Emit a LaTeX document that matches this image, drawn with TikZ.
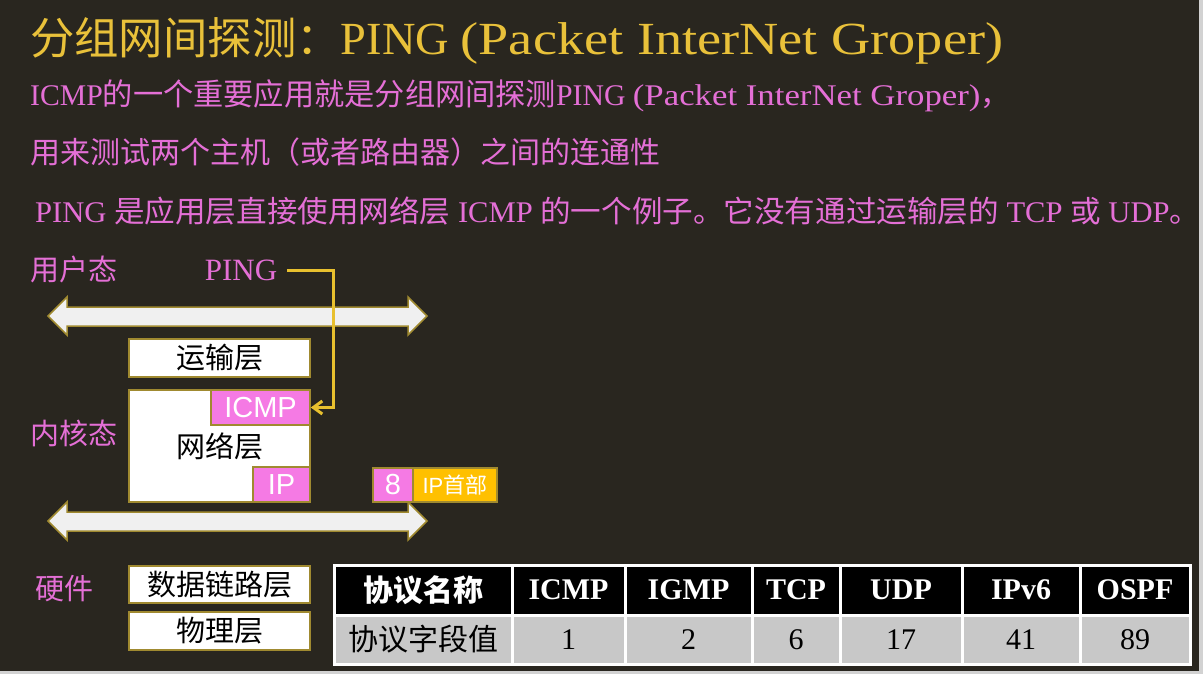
\documentclass[tikz,border=0pt]{standalone}
\usepackage{fontspec}
\setmainfont{Liberation Serif}
\newfontfamily\cjk{Noto Sans CJK SC}
\newfontfamily\arial{Liberation Sans}
\usetikzlibrary{arrows.meta}
\newsavebox\fitbox
\newcommand\fitto[2]{\sbox\fitbox{#2}\pgfmathsetmacro\fitr{#1/\the\wd\fitbox}\scalebox{\fitr}[1]{\usebox\fitbox}}
\newcommand\wide[1]{\scalebox{1.17}[1]{#1}}
\definecolor{bg}{HTML}{29261F}
\definecolor{strip}{HTML}{D2D2D2}
\definecolor{titley}{HTML}{E9C13A}
\definecolor{pinktext}{HTML}{E46FD6}
\definecolor{pinkbox}{HTML}{F57AE4}
\definecolor{gold}{HTML}{A08A30}
\definecolor{ipy}{HTML}{FFC000}
\definecolor{conny}{HTML}{E8C02E}
\definecolor{arrowfill}{HTML}{F0F0F0}
\definecolor{rowgray}{HTML}{C8C8C8}
\tikzset{
  pinklabel/.style={anchor=west, inner sep=0, text=pinktext, font=\cjk\fontsize{29}{32}\selectfont},
  textline/.style={anchor=west, inner sep=0, text=pinktext, font=\fontsize{30}{34}\selectfont},
  layerbox/.style={draw=gold, line width=1.5pt, fill=white, inner sep=0, text=black, font=\cjk\fontsize{29}{32}\selectfont},
  tagbox/.style={draw=gold, line width=1.5pt, fill=pinkbox, inner sep=0, text=white, font=\arial\fontsize{29}{32}\selectfont},
  bigarrow/.style={draw=gold, line width=1.5pt, fill=arrowfill},
  conn/.style={draw=conny, line width=3pt, -{Straight Barb[length=9pt,width=13pt]}},
  hcell/.style={fill=black, draw=white, line width=3pt, inner sep=0, text=white, font=\bfseries\fontsize{30}{34}\selectfont, minimum height=50pt},
  vcell/.style={fill=rowgray, draw=white, line width=3pt, inner sep=0, text=black, font=\fontsize{30}{34}\selectfont, minimum height=49pt}
}
\begin{document}
\begin{tikzpicture}[x=1pt,y=-1pt]
\fill[bg] (0,0) rectangle (1203,674);
\fill[strip] (0,671) rectangle (1203,674);
\fill[strip] (1199,0) rectangle (1203,674);
\useasboundingbox (0,0) rectangle (1203,674);

% title and text lines
\node[anchor=west, inner sep=0, text=titley, font=\fontsize{46}{52}\selectfont] (title) at (30,41)
  {\fitto{973}{{\cjk\fontsize{44}{52}\selectfont 分组网间探测：}PING \wide{(Packet InterNet Groper)}}};
\node[textline] (l1) at (30,96)
  {\fitto{980}{ICMP{\cjk\fontsize{30.5}{34}\selectfont 的一个重要应用就是分组网间探测}PING \wide{(Packet InterNet Groper)}{\cjk ，}}};
\node[textline] (l2) at (30,152) {\fitto{630}{\cjk 用来测试两个主机（或者路由器）之间的连通性}};
\node[textline] (l3) at (35,211)
  {\fitto{1165}{PING {\cjk 是应用层直接使用网络层} ICMP {\cjk 的一个例子。它没有通过运输层的} TCP {\cjk 或} UDP{\cjk 。}}};

% side labels
\node[pinklabel] (user) at (30,269) {用户态};
\node[pinklabel] (kernel) at (30,433) {内核态};
\node[pinklabel] (hw) at (35,589) {硬件};
\node[anchor=center, inner sep=0, text=pinktext, font=\fontsize{31}{34}\selectfont] (ping) at (241,270) {PING};

% big double arrows
\draw[bigarrow] (48,316) -- (67,297) -- (67,307) -- (408,307) -- (408,297) -- (427,316)
  -- (408,335) -- (408,326) -- (67,326) -- (67,335) -- cycle;
\draw[bigarrow] (48,521) -- (67,502) -- (67,512) -- (408,512) -- (408,502) -- (427,521)
  -- (408,540) -- (408,531) -- (67,531) -- (67,540) -- cycle;

% layer boxes
\node[layerbox, minimum width=181pt, minimum height=38pt] (transport) at (219.5,358) {运输层};
\node[layerbox, minimum width=181pt, minimum height=112pt] (network) at (219.5,446) {网络层};
\node[tagbox, minimum width=99pt, minimum height=35pt] (icmp) at (260.5,407.5) {ICMP};
\node[tagbox, minimum width=57pt, minimum height=35pt] (ip) at (281.5,484.5) {IP};
\node[tagbox, minimum width=40pt, minimum height=34pt] (eight) at (393,485) {8};
\node[tagbox, fill=ipy, minimum width=84pt, minimum height=34pt, font=\arial\fontsize{22}{26}\selectfont] (iph) at (455,485) {IP{\cjk 首部}};
\node[layerbox, minimum width=181pt, minimum height=37pt] (datalink) at (219.5,584.5) {数据链路层};
\node[layerbox, minimum width=181pt, minimum height=38pt] (physical) at (219.5,631) {物理层};

% connector PING -> ICMP
\coordinate (bend) at (333,407.5);
\draw[conn, shorten <=10pt] (ping.east) -| (bend) -- (icmp.east);

% table
\node[hcell, minimum width=178pt] (h1) at (423,590) {\cjk\bfseries 协议名称};
\node[hcell, minimum width=113pt] (h2) at (568.5,590) {ICMP};
\node[hcell, minimum width=127pt] (h3) at (688.5,590) {IGMP};
\node[hcell, minimum width=88pt] (h4) at (796,590) {TCP};
\node[hcell, minimum width=122pt] (h5) at (901,590) {UDP};
\node[hcell, minimum width=118pt] (h6) at (1021,590) {IPv6};
\node[hcell, minimum width=110pt] (h7) at (1135,590) {OSPF};
\node[vcell, minimum width=178pt] (v1) at (423,639.5) {\cjk 协议字段值};
\node[vcell, minimum width=113pt] (v2) at (568.5,639.5) {1};
\node[vcell, minimum width=127pt] (v3) at (688.5,639.5) {2};
\node[vcell, minimum width=88pt] (v4) at (796,639.5) {6};
\node[vcell, minimum width=122pt] (v5) at (901,639.5) {17};
\node[vcell, minimum width=118pt] (v6) at (1021,639.5) {41};
\node[vcell, minimum width=110pt] (v7) at (1135,639.5) {89};
\end{tikzpicture}
\end{document}
